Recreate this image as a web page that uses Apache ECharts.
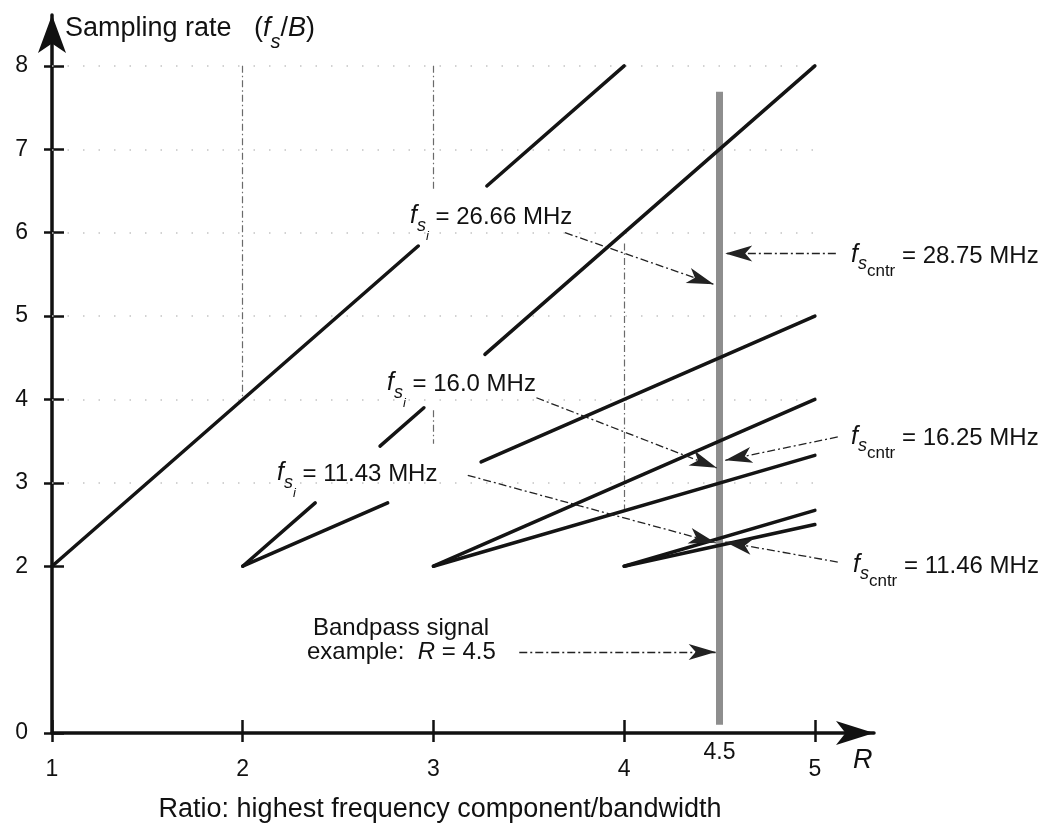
<!DOCTYPE html>
<html>
<head>
<meta charset="utf-8">
<title>Bandpass sampling rate vs R</title>
<script src="https://cdn.jsdelivr.net/npm/echarts@6/dist/echarts.min.js"></script>
<style>
html, body { margin: 0; padding: 0; background: #fff; }
#chart { width: 1052px; height: 825px; }
</style>
</head>
<body>
<div id="chart"></div>
<script>
// ticks / labels
var xTickVals = [1, 2, 3, 4, 5];
var xLabelVals = [1, 2, 3, 4, 4.5, 5];
var yTickVals = [0, 2, 3, 4, 5, 6, 7, 8];

// wedge edges, [R1, fs1, R2, fs2] (fs in units of B)
var edgeTwoR = [[1, 2, 2.92, 5.84], [3.28, 6.56, 4, 8]];
var edgeN2Upper = [[2, 2, 2.38, 2.76], [2.72, 3.44, 2.95, 3.9], [3.27, 4.54, 5, 8]];
var edgeN2Lower = [[2, 2, 2.76, 2.76], [3.25, 3.25, 5, 5]];
var edgeN3 = [[3, 2, 5, 4], [3, 2, 5, 3.33]];
var edgeN4 = [[4, 2, 5, 2.67], [4, 2, 5, 2.5]];

// dash-dot guides and faint dotted levels
var guideLines = [[2, 8, 2, 4], [3, 8, 3, 6.5], [3, 3.87, 3, 3.47], [4, 5.87, 4, 2.67]];
var dotLevels = [3, 4, 5, 6, 7, 8];

// the R = 4.5 example line
var exampleLine = [[4.5, 0.1, 4.5, 7.69]];

// annotation arrows (label -> R = 4.5 line)
var arrows = [
  [3.69, 6.0, 4.47, 5.38],   // fs_i = 26.66
  [5.11, 5.75, 4.53, 5.75],  // fs_cntr = 28.75
  [3.54, 4.02, 4.485, 3.18], // fs_i = 16.0
  [5.12, 3.55, 4.53, 3.27],  // fs_cntr = 16.25
  [3.18, 3.09, 4.48, 2.28],  // fs_i = 11.43
  [5.12, 2.05, 4.53, 2.29],  // fs_cntr = 11.46
  [3.45, 0.97, 4.48, 0.97]   // bandpass example
];

var fsiValues = ['26.66', '16.0', '11.43'];
var fsCntrValues = ['28.75', '16.25', '11.46'];

var FONT = '"Liberation Sans", Arial, Helvetica, sans-serif';
var INK = '#111';

function segs(list) {
  return list.map(function (s) { return { coords: [[s[0], s[1]], [s[2], s[3]]] }; });
}

function tok(size, italic, padB) {
  return {
    fontFamily: FONT, fontSize: size, fontStyle: italic ? 'italic' : 'normal',
    padding: [0, 0, padB, 0], verticalAlign: 'bottom', fill: INK, color: INK
  };
}

var richAll = {
  f: tok(25, true, 14), s: tok(18, true, 8), i: tok(13, true, 0), t: tok(24, false, 14),
  f2: tok(25, true, 12), s2: tok(18, true, 7), c: tok(17, false, 0), t2: tok(24, false, 12),
  tt: tok(27, false, 10), ti: tok(27, true, 10), ts: tok(20, true, 0),
  e: tok(24, false, 0), ei: tok(24, true, 0)
};

function txt(x, y, text) {
  return {
    type: 'text', x: x, y: y, z: 100,
    style: {
      text: text, rich: richAll, fill: INK, font: '24px ' + FONT,
      align: 'left', verticalAlign: 'top', textAlign: 'left', textVerticalAlign: 'top'
    }
  };
}

// label layout (pixel positions, left edge / main-text centre)
var fsiPos = [[410, 216], [387, 383], [277, 473]];
var fsCntrPos = [[851, 255], [851, 437], [853, 565]];

var graphics = [];
fsiValues.forEach(function (v, k) {
  graphics.push(txt(fsiPos[k][0], fsiPos[k][1] - 12, '{f|f}{s|s}{i|i}{t| = ' + v + ' MHz}'));
});
fsCntrValues.forEach(function (v, k) {
  graphics.push(txt(fsCntrPos[k][0], fsCntrPos[k][1] - 12, '{f2|f}{s2|s}{c|cntr}{t2| = ' + v + ' MHz}'));
});
graphics.push(txt(65, 15, '{tt|Sampling rate   (}{ti|f}{ts|s}{tt|/}{ti|B}{tt|)}'));
graphics.push(txt(313, 616, '{e|Bandpass signal}'));
graphics.push(txt(307, 640, '{e|example:  }{ei|R}{e| = 4.5}'));
graphics.push({
  type: 'text', x: 853, y: 760, z: 100,
  style: { text: 'R', font: 'italic 27px ' + FONT, fill: INK, align: 'left', verticalAlign: 'middle',
           textAlign: 'left', textVerticalAlign: 'middle' }
});
graphics.push({
  type: 'text', x: 440, y: 810, z: 100,
  style: { text: 'Ratio: highest frequency component/bandwidth', font: '27px ' + FONT, fill: INK,
           align: 'center', verticalAlign: 'middle', textAlign: 'center', textVerticalAlign: 'middle' }
});

var arrowHead = 'path://M0,0 M8,27 L16,54 L8,47 L0,54 Z';

var dotSegs = dotLevels.map(function (v) { return [1, v, 5, v]; });

var chart = echarts.init(document.getElementById('chart'));
chart.setOption({
  animation: false,
  backgroundColor: '#fff',
  grid: { left: 52, right: 178, top: 15, bottom: 92, containLabel: false, outerBoundsMode: 'none' },
  xAxis: [{
    type: 'value', min: 1, max: 5.31, position: 'bottom',
    axisLine: { show: true, onZero: false, symbol: ['none', 'arrow'], symbolSize: [18, 38],
                lineStyle: { color: INK, width: 3.5 } },
    axisTick: { show: true, inside: false, length: 9, customValues: xTickVals,
                lineStyle: { color: INK, width: 2.5 } },
    axisLabel: {
      customValues: xLabelVals, margin: 8, color: INK, fontFamily: FONT, fontSize: 23,
      formatter: function (v) { return v === 4.5 ? '{hi|4.5}' : '{lo|' + v + '}'; },
      rich: {
        hi: { fontFamily: FONT, fontSize: 23, color: INK },
        lo: { fontFamily: FONT, fontSize: 23, color: INK, padding: [17, 0, 0, 0] }
      }
    },
    splitLine: { show: false }
  }, {
    type: 'value', min: 1, max: 5.31, position: 'bottom',
    axisLine: { show: false, onZero: false },
    axisTick: { show: true, inside: true, length: 13, customValues: xTickVals,
                lineStyle: { color: INK, width: 2.5 } },
    axisLabel: { show: false },
    splitLine: { show: false }
  }],
  yAxis: [{
    type: 'value', min: 0, max: 8.61, position: 'left',
    axisLine: { show: true, onZero: false, symbol: ['none', 'arrow'], symbolSize: [21, 38],
                lineStyle: { color: INK, width: 3.5 } },
    axisTick: { show: true, inside: false, length: 8, customValues: yTickVals,
                lineStyle: { color: INK, width: 2.5 } },
    axisLabel: { customValues: yTickVals, margin: 24, color: INK, fontFamily: FONT, fontSize: 23 },
    splitLine: { show: false }
  }, {
    type: 'value', min: 0, max: 8.61, position: 'left',
    axisLine: { show: false, onZero: false },
    axisTick: { show: true, inside: true, length: 12, customValues: yTickVals,
                lineStyle: { color: INK, width: 2.5 } },
    axisLabel: { show: false },
    splitLine: { show: false }
  }],
  graphic: graphics,
  series: [
    { // faint dotted levels
      type: 'lines', coordinateSystem: 'cartesian2d', silent: true, z: 1,
      lineStyle: { color: '#c4c4c4', width: 1.5, type: [1.5, 14], opacity: 1 },
      data: segs(dotSegs)
    },
    { // dash-dot guides
      type: 'lines', coordinateSystem: 'cartesian2d', silent: true, z: 2,
      lineStyle: { color: '#6a6a6a', width: 1.2, type: [7, 3, 1.5, 3], opacity: 1 },
      data: segs(guideLines)
    },
    { // R = 4.5
      type: 'lines', coordinateSystem: 'cartesian2d', silent: true, z: 3,
      lineStyle: { color: '#8e8e8e', width: 7, opacity: 1 },
      data: segs(exampleLine)
    },
    { // wedge boundaries
      type: 'lines', coordinateSystem: 'cartesian2d', silent: true, z: 4,
      lineStyle: { color: '#141414', width: 3.5, opacity: 1, cap: 'round' },
      data: segs([].concat(edgeTwoR, edgeN2Upper, edgeN2Lower, edgeN3, edgeN4))
    },
    { // annotation arrows
      type: 'lines', coordinateSystem: 'cartesian2d', silent: true, z: 5,
      symbol: ['none', arrowHead], symbolSize: [1, [16, 54]],
      lineStyle: { color: '#222', width: 1.3, type: [8, 3, 2, 3], opacity: 1 },
      data: segs(arrows)
    }
  ]
});
</script>
</body>
</html>
